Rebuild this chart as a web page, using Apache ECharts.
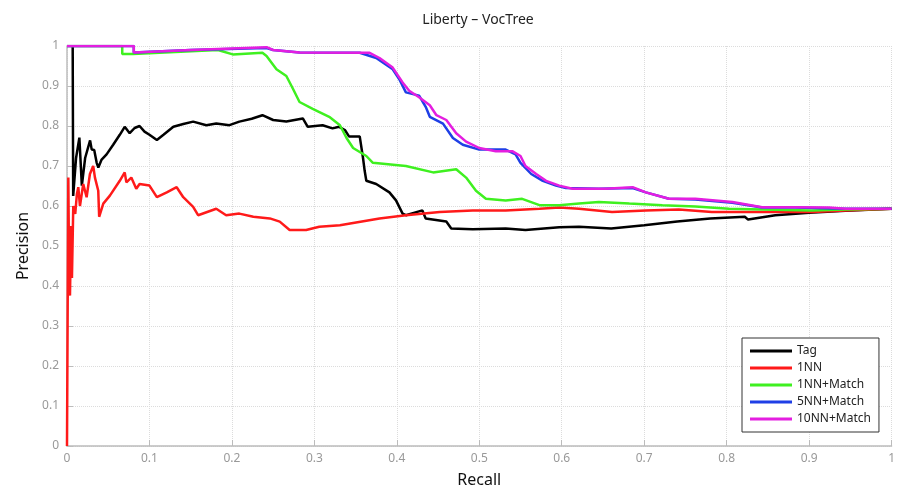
<!DOCTYPE html>
<html>
<head>
<meta charset="utf-8">
<script src="https://cdn.jsdelivr.net/npm/echarts@6/dist/echarts.min.js"></script>
<style>
  html, body { margin: 0; padding: 0; background: #fff; }
  #chart { width: 898px; height: 493px; }
</style>
</head>
<body>
<div id="chart"></div>
<script>
// recall / precision pairs
const seriesNames = ['Tag', '1NN', '1NN+Match', '5NN+Match', '10NN+Match']

const tagPts = [
  [0.0069, 1], [0.0075, 0.625], [0.011, 0.72], [0.015, 0.771], [0.018, 0.651], [0.022, 0.72],
  [0.028, 0.764], [0.030, 0.741], [0.033, 0.74], [0.036, 0.708], [0.038, 0.696], [0.042, 0.716],
  [0.048, 0.729], [0.056, 0.753], [0.064, 0.778], [0.070, 0.798], [0.076, 0.782], [0.082, 0.795],
  [0.088, 0.80], [0.094, 0.786], [0.100, 0.778], [0.109, 0.765], [0.117, 0.778], [0.129, 0.798],
  [0.141, 0.805], [0.153, 0.811], [0.169, 0.802], [0.181, 0.806], [0.197, 0.802], [0.209, 0.811],
  [0.224, 0.818], [0.237, 0.827], [0.250, 0.815], [0.266, 0.811], [0.286, 0.819], [0.292, 0.798],
  [0.310, 0.802], [0.322, 0.794], [0.330, 0.798], [0.337, 0.79], [0.342, 0.774], [0.355, 0.774],
  [0.359, 0.72], [0.361, 0.688], [0.363, 0.663], [0.375, 0.655], [0.391, 0.634], [0.399, 0.614],
  [0.407, 0.581], [0.411, 0.577], [0.431, 0.589], [0.435, 0.569], [0.460, 0.561], [0.466, 0.544],
  [0.492, 0.542], [0.532, 0.544], [0.556, 0.54], [0.597, 0.547], [0.621, 0.548], [0.660, 0.544],
  [0.7, 0.552], [0.740, 0.561], [0.780, 0.569], [0.822, 0.573], [0.826, 0.566], [0.859, 0.577],
  [0.9, 0.583], [0.944, 0.588], [1.0, 0.593]
]

const nn1Pts = [
  [0, 0], [0.0016, 0.671], [0.0025, 0.45], [0.0036, 0.376], [0.005, 0.55], [0.006, 0.42],
  [0.0076, 0.60], [0.010, 0.58], [0.012, 0.63], [0.0137, 0.647], [0.0157, 0.60], [0.0197, 0.655],
  [0.0238, 0.622], [0.0278, 0.68], [0.0318, 0.70], [0.0339, 0.671], [0.0379, 0.638], [0.039, 0.573],
  [0.044, 0.606], [0.052, 0.626], [0.064, 0.663], [0.070, 0.684], [0.072, 0.659], [0.078, 0.671],
  [0.084, 0.643], [0.088, 0.655], [0.100, 0.651], [0.109, 0.622], [0.121, 0.634], [0.133, 0.647],
  [0.141, 0.622], [0.153, 0.598], [0.159, 0.577], [0.181, 0.593], [0.193, 0.577], [0.209, 0.581],
  [0.226, 0.573], [0.246, 0.569], [0.258, 0.561], [0.270, 0.54], [0.290, 0.54], [0.306, 0.548],
  [0.331, 0.552], [0.379, 0.569], [0.411, 0.577], [0.452, 0.585], [0.492, 0.589], [0.532, 0.589],
  [0.573, 0.593], [0.597, 0.596], [0.621, 0.593], [0.661, 0.585], [0.702, 0.589], [0.742, 0.591],
  [0.782, 0.585], [0.827, 0.585], [0.863, 0.585], [0.904, 0.585], [0.944, 0.589], [1.0, 0.593]
]

const nn1MatchPts = [
  [0, 1], [0.067, 1], [0.067, 0.98], [0.080, 0.98], [0.080, 0.984], [0.183, 0.99], [0.185, 0.988],
  [0.201, 0.979], [0.237, 0.983], [0.242, 0.975], [0.254, 0.942], [0.266, 0.925], [0.274, 0.893],
  [0.282, 0.86], [0.298, 0.843], [0.318, 0.823], [0.331, 0.802], [0.339, 0.77], [0.347, 0.745],
  [0.363, 0.725], [0.371, 0.708], [0.411, 0.70], [0.444, 0.684], [0.472, 0.692], [0.484, 0.671],
  [0.496, 0.638], [0.508, 0.618], [0.532, 0.614], [0.552, 0.618], [0.573, 0.602], [0.597, 0.602],
  [0.621, 0.606], [0.645, 0.61], [0.682, 0.606], [0.722, 0.602], [0.762, 0.599], [0.803, 0.593],
  [0.843, 0.591], [0.903, 0.589], [0.944, 0.591], [1.0, 0.593]
]

const nn5MatchPts = [
  [0, 1], [0.081, 1], [0.081, 0.984], [0.15, 0.99], [0.242, 0.995], [0.25, 0.99], [0.282, 0.984],
  [0.355, 0.983], [0.375, 0.97], [0.395, 0.942], [0.403, 0.917], [0.411, 0.884], [0.427, 0.876],
  [0.435, 0.848], [0.440, 0.823], [0.456, 0.806], [0.468, 0.77], [0.480, 0.753], [0.5, 0.741],
  [0.532, 0.741], [0.544, 0.729], [0.550, 0.708], [0.563, 0.68], [0.577, 0.663], [0.593, 0.651],
  [0.605, 0.645], [0.645, 0.643], [0.686, 0.645], [0.702, 0.634], [0.730, 0.618], [0.762, 0.616],
  [0.807, 0.608], [0.843, 0.596], [0.883, 0.596], [0.944, 0.593], [1.0, 0.593]
]

const nn10MatchPts = [
  [0, 1], [0.081, 1], [0.081, 0.984], [0.15, 0.99], [0.242, 0.997], [0.25, 0.99], [0.282, 0.984],
  [0.367, 0.983], [0.379, 0.97], [0.395, 0.946], [0.407, 0.909], [0.415, 0.888], [0.427, 0.872],
  [0.440, 0.852], [0.448, 0.827], [0.460, 0.815], [0.472, 0.782], [0.484, 0.761], [0.5, 0.745],
  [0.520, 0.737], [0.540, 0.737], [0.550, 0.725], [0.556, 0.70], [0.569, 0.68], [0.581, 0.663],
  [0.597, 0.651], [0.613, 0.643], [0.653, 0.643], [0.686, 0.647], [0.702, 0.634], [0.730, 0.618],
  [0.762, 0.618], [0.807, 0.61], [0.843, 0.597], [0.883, 0.597], [0.924, 0.596], [0.944, 0.593],
  [1.0, 0.593]
]

const seriesData = [tagPts, nn1Pts, nn1MatchPts, nn5MatchPts, nn10MatchPts]
const colors = ['#000000', '#ff1a1a', '#3ff020', '#1f3fe6', '#e41ee0']

const font = '"Noto Sans", "Open Sans", sans-serif'
const axisGrey = '#bcbcbc'

const chart = echarts.init(document.getElementById('chart'))

chart.setOption({
  animation: false,
  backgroundColor: '#fff',
  title: {
    text: 'Liberty \u2013 VocTree',
    left: 473,
    top: 8,
    textAlign: 'center',
    textStyle: { fontFamily: font, fontSize: 14, fontWeight: 'normal', color: '#222' }
  },
  grid: { left: 67, right: 5, top: 46, bottom: 40 },
  legend: {
    data: seriesNames,
    orient: 'vertical',
    left: 742,
    top: 338,
    icon: 'rect',
    itemWidth: 42,
    itemHeight: 3,
    itemGap: 5,
    padding: [7, 8, 7, 8],
    borderColor: '#333',
    borderWidth: 1,
    borderRadius: 0,
    backgroundColor: '#fff',
    textStyle: { fontFamily: font, fontSize: 12, color: '#222' }
  },
  xAxis: {
    type: 'value',
    min: 0,
    max: 1,
    interval: 0.1,
    name: 'Recall',
    nameLocation: 'middle',
    nameGap: 26,
    nameTextStyle: { fontFamily: font, fontSize: 16, color: '#111' },
    axisLine: { lineStyle: { color: axisGrey, width: 1.5 } },
    axisTick: { inside: true, length: 6, lineStyle: { color: axisGrey } },
    axisLabel: { fontFamily: font, fontSize: 12, color: '#999', margin: 7 },
    splitLine: { show: true, lineStyle: { type: 'dotted', color: '#dcdcdc' } }
  },
  yAxis: {
    type: 'value',
    min: 0,
    max: 1,
    interval: 0.1,
    name: 'Precision',
    nameLocation: 'middle',
    nameGap: 33,
    nameTextStyle: { fontFamily: font, fontSize: 16, color: '#111' },
    axisLine: { show: true, lineStyle: { color: axisGrey, width: 1.5 } },
    axisTick: { show: true, inside: true, length: 6, lineStyle: { color: axisGrey } },
    axisLabel: { fontFamily: font, fontSize: 12, color: '#999', margin: 8 },
    splitLine: { show: true, lineStyle: { type: 'dotted', color: '#dcdcdc' } }
  },
  series: seriesNames.map((name, i) => ({
    name,
    type: 'line',
    data: seriesData[i],
    showSymbol: false,
    symbol: 'none',
    color: colors[i],
    lineStyle: { color: colors[i], width: 2.5 },
    z: 2 + i
  }))
})
</script>
</body>
</html>
